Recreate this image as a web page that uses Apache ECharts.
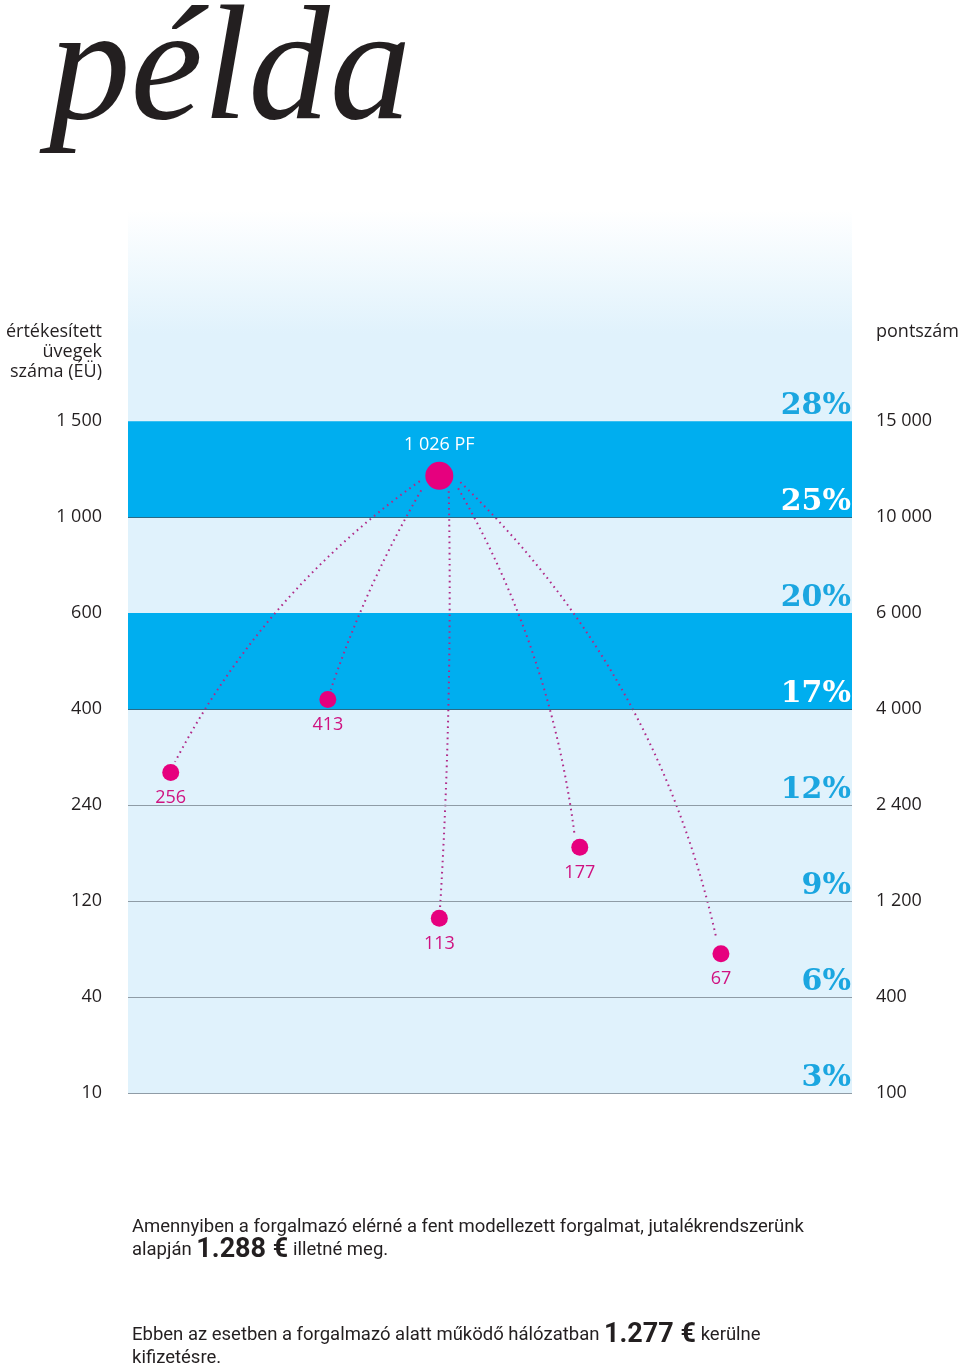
<!DOCTYPE html>
<html>
<head>
<meta charset="utf-8">
<script src="https://cdn.jsdelivr.net/npm/echarts@6/dist/echarts.min.js"></script>
<style>
  html, body { margin: 0; padding: 0; background: #fff; }
  #chart { width: 960px; height: 1363px; }
</style>
</head>
<body>
<div id="chart"></div>
<script>
// szintek (0 = legalsó vonal), bal és jobb tengely feliratai
var leftLabels = ['10', '40', '120', '240', '400', '600', '1 000', '1 500'];
var rightLabels = ['100', '400', '1 200', '2 400', '4 000', '6 000', '10 000', '15 000'];
var pctLabels = ['3%', '6%', '9%', '12%', '17%', '20%', '25%', '28%'];

// kék sávok (szinttől szintig) és vízszintes vonalak
var bands = [[4, 5], [6, 7]];
var grayLevels = [0, 1, 2, 3];
var darkLevels = [4, 6];

// pontok
var pointNames = ['256', '413', '113', '177', '67'];
var pointX = [5.9, 27.6, 43.0, 62.4, 81.9];
var pointY = [3.34, 4.10, 1.82, 2.56, 1.45];
var peakName = '1 026 PF';
var peakX = 43.0;
var peakY = 6.43;

// pontozott ívek: kezdő- és végpont, görbület
var arcStart = [[40.3, 6.375], [40.5, 6.28], [44.3, 6.27], [45.6, 6.30], [45.9, 6.365]];
var arcEnd = [[6.5, 3.45], [28.0, 4.20], [43.1, 1.93], [61.7, 2.68], [81.2, 1.635]];
var arcCurve = [-0.12, -0.05, 0.02, 0.1, 0.15];

var myChart = echarts.init(document.getElementById('chart'));

var magenta = '#e6007e';
var cyan = '#00aeef';
var pctBlue = '#1ba6e0';
var sansFont = "'Open Sans', 'Noto Sans', sans-serif";
var textFont = "Roboto, 'Open Sans', sans-serif";

function lvlLabel(list) {
    return function (v) {
        if (Math.abs(v - Math.round(v)) > 0.001) return '';
        return list[Math.round(v)] || '';
    };
}

function inBand(k) {
    return bands.some(function (b) { return b[0] === k; });
}

var markLines = [];
grayLevels.forEach(function (l) {
    markLines.push({ yAxis: l, lineStyle: { color: '#8f9ca6', width: 1, type: 'solid' } });
});
darkLevels.forEach(function (l) {
    markLines.push({ yAxis: l, lineStyle: { color: '#2b6b86', width: 1, type: 'solid' } });
});

// százalékok a vonalak fölött, jobbra igazítva (a sávon belül fehérek)
var pctMarks = pctLabels.map(function (p, k) {
    var white = inBand(k);
    return {
        yAxis: k,
        label: {
            formatter: '{' + (white ? 'w' : 'b') + '|' + p + '}',
            color: white ? '#ffffff' : pctBlue
        }
    };
});

var pctRich = {
    fontSize: 30,
    fontWeight: 'bold',
    fontFamily: "'DejaVu Serif', serif"
};

var arcs = [];
for (var i = 0; i < arcStart.length; i++) {
    arcs.push({
        coords: [arcStart[i], arcEnd[i]],
        lineStyle: { curveness: arcCurve[i] }
    });
}

var dots = [];
for (var j = 0; j < pointNames.length; j++) {
    dots.push({ name: pointNames[j], value: [pointX[j], pointY[j]] });
}

var yBase = {
    type: 'value',
    min: 0,
    max: 9.2,
    interval: 1,
    splitLine: { show: false },
    axisLine: { show: false },
    axisTick: { show: false }
};

option = {
    backgroundColor: '#ffffff',
    animation: false,
    grid: {
        left: 128,
        right: 108,
        top: 210,
        bottom: 270,
        show: true,
        borderWidth: 0,
        backgroundColor: new echarts.graphic.LinearGradient(0, 0, 0, 1, [
            { offset: 0, color: '#ffffff' },
            { offset: 0.14, color: '#e0f2fc' },
            { offset: 1, color: '#e0f2fc' }
        ])
    },
    xAxis: {
        type: 'value',
        min: 0,
        max: 100,
        show: false
    },
    yAxis: [
        Object.assign({}, yBase, {
            position: 'left',
            axisLabel: {
                formatter: lvlLabel(leftLabels),
                margin: 26,
                color: '#231f20',
                fontSize: 18,
                padding: [3, 0, 0, 0],
                fontFamily: sansFont
            }
        }),
        Object.assign({}, yBase, {
            position: 'right',
            axisLabel: {
                formatter: lvlLabel(rightLabels),
                margin: 24,
                align: 'left',
                color: '#231f20',
                fontSize: 18,
                padding: [3, 0, 0, 0],
                fontFamily: sansFont
            }
        })
    ],
    series: [
        {
            // sávok és vonalak
            type: 'line',
            data: [],
            z: 1,
            markArea: {
                silent: true,
                itemStyle: { color: cyan, opacity: 1 },
                label: { show: false },
                data: bands.map(function (b) {
                    return [{ yAxis: b[0] }, { yAxis: b[1] }];
                })
            },
            markLine: {
                silent: true,
                symbol: 'none',
                label: { show: false },
                data: markLines
            }
        },
        {
            // százalék feliratok, külön rétegen a sávok fölött
            type: 'line',
            data: [],
            zlevel: 1,
            z: 5,
            markLine: {
                silent: true,
                symbol: 'none',
                lineStyle: { color: 'rgba(0,0,0,0)', width: 0, type: 'solid' },
                label: {
                    show: true,
                    position: 'insideEndTop',
                    distance: [1, 0],
                    fontSize: 30,
                    fontWeight: 'bold',
                    fontFamily: "'DejaVu Serif', serif",
                    rich: {
                        b: Object.assign({ color: pctBlue }, pctRich),
                        w: Object.assign({ color: '#ffffff' }, pctRich)
                    }
                },
                data: pctMarks
            }
        },
        {
            type: 'lines',
            coordinateSystem: 'cartesian2d',
            z: 3,
            lineStyle: {
                color: '#b02a88',
                width: 2,
                type: [1.6, 4],
                opacity: 1
            },
            data: arcs
        },
        {
            type: 'scatter',
            z: 4,
            symbolSize: 17,
            itemStyle: { color: magenta, opacity: 1 },
            label: {
                show: true,
                position: 'bottom',
                distance: 8,
                formatter: '{b}',
                color: '#cf1280',
                fontSize: 18,
                fontFamily: sansFont
            },
            data: dots
        },
        {
            type: 'scatter',
            z: 4,
            symbolSize: 28,
            itemStyle: { color: magenta, opacity: 1 },
            label: {
                show: true,
                position: 'top',
                distance: 8,
                formatter: '{b}',
                color: '#ffffff',
                fontSize: 18,
                fontFamily: sansFont
            },
            data: [{ name: peakName, value: [peakX, peakY] }]
        }
    ],
    graphic: [
        {
            type: 'text',
            left: 49,
            top: -6,
            style: {
                text: 'példa',
                font: "italic 163px 'Liberation Serif', serif",
                fill: '#231f20'
            }
        },
        {
            type: 'text',
            style: {
                x: 102,
                y: 322,
                text: 'értékesített\nüvegek\nszáma (ÉÜ)',
                align: 'right',
                verticalAlign: 'top',
                font: "18px 'Open Sans', 'Noto Sans', sans-serif",
                lineHeight: 20,
                fill: '#231f20'
            }
        },
        {
            type: 'text',
            style: {
                x: 876,
                y: 322,
                text: 'pontszám',
                verticalAlign: 'top',
                font: "18px 'Open Sans', 'Noto Sans', sans-serif",
                lineHeight: 20,
                fill: '#231f20'
            }
        },
        {
            type: 'text',
            left: 132,
            top: 1216,
            style: {
                text: 'Amennyiben a forgalmazó elérné a fent modellezett forgalmat, jutalékrendszerünk\nalapján {b|1.288 €} illetné meg.',
                font: '18.5px ' + textFont,
                lineHeight: 23,
                fill: '#231f20',
                rich: {
                    b: {
                        fontSize: 27,
                        fontWeight: 'bold',
                        fontFamily: textFont,
                        lineHeight: 23,
                        fill: '#231f20'
                    }
                }
            }
        },
        {
            type: 'text',
            left: 132,
            top: 1322,
            style: {
                text: 'Ebben az esetben a forgalmazó alatt működő hálózatban {b|1.277 €} kerülne\nkifizetésre.',
                font: '18.5px ' + textFont,
                lineHeight: 23,
                fill: '#231f20',
                rich: {
                    b: {
                        fontSize: 27,
                        fontWeight: 'bold',
                        fontFamily: textFont,
                        lineHeight: 23,
                        fill: '#231f20'
                    }
                }
            }
        }
    ]
};

myChart.setOption(option);
</script>
</body>
</html>
